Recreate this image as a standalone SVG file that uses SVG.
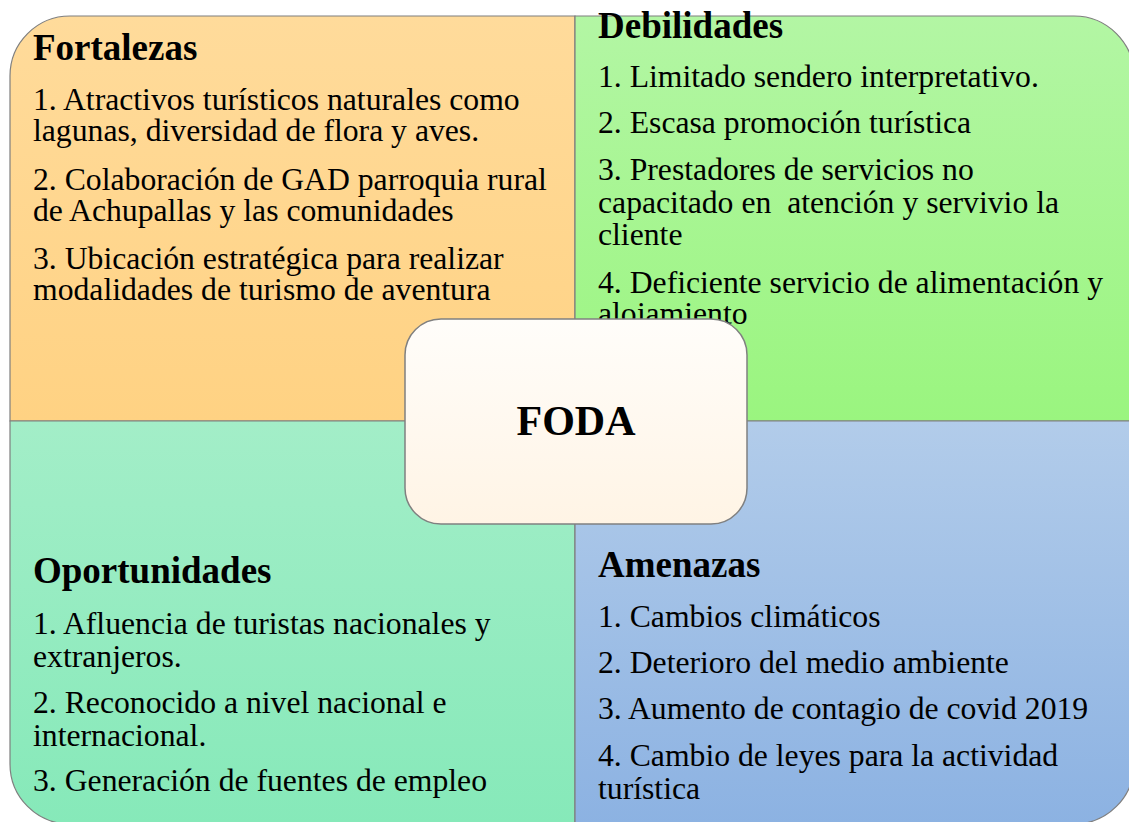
<svg xmlns="http://www.w3.org/2000/svg" width="1129" height="822" viewBox="0 0 1129 822">
<defs>
<linearGradient id="gF" x1="0" y1="0" x2="0" y2="1"><stop offset="0" stop-color="#FFDB9B"/><stop offset="1" stop-color="#FFD283"/></linearGradient>
<linearGradient id="gD" x1="0" y1="0" x2="0" y2="1"><stop offset="0" stop-color="#B3F6A4"/><stop offset="1" stop-color="#9AF57F"/></linearGradient>
<linearGradient id="gO" x1="0" y1="0" x2="0" y2="1"><stop offset="0" stop-color="#A3EEC8"/><stop offset="1" stop-color="#86E9B9"/></linearGradient>
<linearGradient id="gA" x1="0" y1="0" x2="0" y2="1"><stop offset="0" stop-color="#B2CCEA"/><stop offset="1" stop-color="#8CB2E2"/></linearGradient>
<linearGradient id="gC" x1="0" y1="0" x2="0" y2="1"><stop offset="0" stop-color="#FFFDFA"/><stop offset="1" stop-color="#FFF4E5"/></linearGradient>
</defs>
<style>
.q{stroke:#7f7f7f;stroke-width:1.2}
.t{font-family:"Liberation Serif","Times New Roman",serif;font-weight:bold;font-size:37px;fill:#000}
.b{font-family:"Liberation Serif","Times New Roman",serif;font-size:31.7px;fill:#000}
.c{font-family:"Liberation Serif","Times New Roman",serif;font-weight:bold;font-size:42px;fill:#000}
</style>
<rect width="1129" height="822" fill="#ffffff"/>
<g id="fortalezas">
<path class="q" fill="url(#gF)" d="M10,421 V76 A60,60 0 0 1 70,16 H575 V421 Z"/>
<text class="t" x="33" y="60">Fortalezas</text>
<text class="b" x="33" y="110">1. Atractivos turísticos naturales como</text>
<text class="b" x="33" y="141">lagunas, diversidad de flora y aves.</text>
<text class="b" x="33" y="190">2. Colaboración de GAD parroquia rural</text>
<text class="b" x="33" y="221">de Achupallas y las comunidades</text>
<text class="b" x="33" y="269">3. Ubicación estratégica para realizar</text>
<text class="b" x="33" y="300">modalidades de turismo de aventura</text>
</g>
<g id="debilidades">
<path class="q" fill="url(#gD)" d="M575,16 H1074 A60,60 0 0 1 1134,76 V421 H575 Z"/>
<text class="t" x="598" y="38">Debilidades</text>
<text class="b" x="598" y="87">1. Limitado sendero interpretativo.</text>
<text class="b" x="598" y="133">2. Escasa promoción turística</text>
<text class="b" x="598" y="180">3. Prestadores de servicios no</text>
<text class="b" x="598" y="213" xml:space="preserve">capacitado en  atención y servivio la</text>
<text class="b" x="598" y="245">cliente</text>
<text class="b" x="598" y="293">4. Deficiente servicio de alimentación y</text>
<text class="b" x="598" y="324">alojamiento</text>
</g>
<g id="oportunidades">
<path class="q" fill="url(#gO)" d="M10,421 H575 V824 H70 A60,60 0 0 1 10,764 Z"/>
<text class="t" x="33" y="583">Oportunidades</text>
<text class="b" x="33" y="634">1. Afluencia de turistas nacionales y</text>
<text class="b" x="33" y="667">extranjeros.</text>
<text class="b" x="33" y="713">2. Reconocido a nivel nacional e</text>
<text class="b" x="33" y="746">internacional.</text>
<text class="b" x="33" y="791">3. Generación de fuentes de empleo</text>
</g>
<g id="amenazas">
<path class="q" fill="url(#gA)" d="M575,421 H1134 V764 A60,60 0 0 1 1074,824 H575 Z"/>
<text class="t" x="598" y="577">Amenazas</text>
<text class="b" x="598" y="627">1. Cambios climáticos</text>
<text class="b" x="598" y="673">2. Deterioro del medio ambiente</text>
<text class="b" x="598" y="719">3. Aumento de contagio de covid 2019</text>
<text class="b" x="598" y="766">4. Cambio de leyes para la actividad</text>
<text class="b" x="598" y="799">turística</text>
</g>
<g id="foda">
<rect x="405" y="319" width="342" height="205" rx="36" ry="36" fill="url(#gC)" stroke="#808080" stroke-width="1.5"/>
<text class="c" x="576" y="435" text-anchor="middle">FODA</text>
</g>
</svg>
